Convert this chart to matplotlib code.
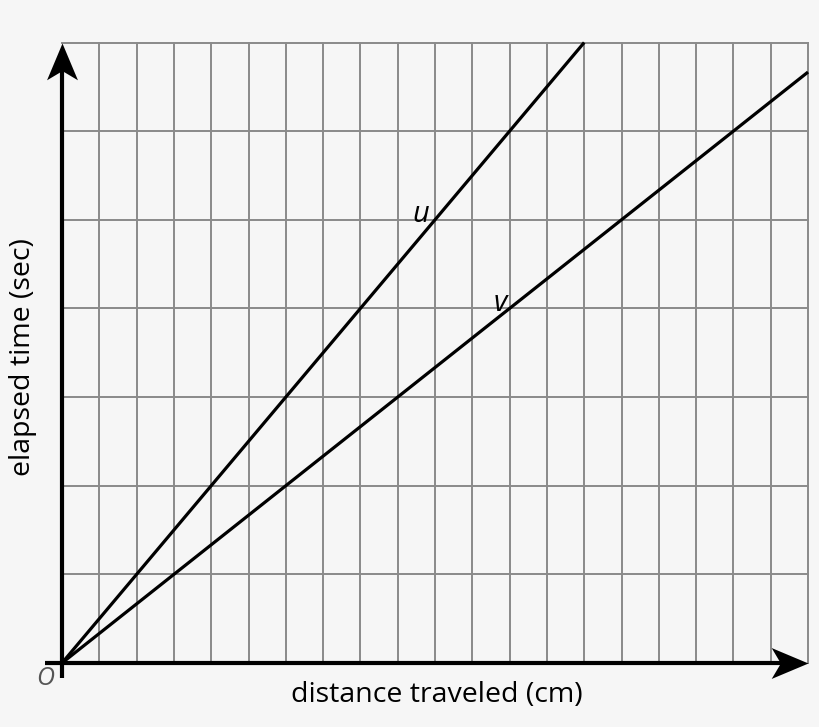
import matplotlib
matplotlib.use("Agg")
import matplotlib.pyplot as plt
from matplotlib.path import Path
import numpy as np

# Data
x_max = 20
y_max = 7
u_x = [0, 14]
u_y = [0, 7]
v_x = [0, 20]
v_y = [0, 20 / 3]
x_label = "distance traveled (cm)"
y_label = "elapsed time (sec)"

bg = "#f6f6f6"
fig = plt.figure(figsize=(8.2, 7.27), dpi=100, facecolor=bg)
ax = fig.add_axes([62 / 820, 1 - 663 / 727, 746 / 820, 620.5 / 727])
ax.set_facecolor(bg)
ax.set_xlim(0, x_max)
ax.set_ylim(0, y_max)
for s in ax.spines.values():
    s.set_visible(False)
ax.set_xticks([])
ax.set_yticks([])

gc = "#8a8a8a"
for xi in range(1, x_max + 1):
    ax.plot([xi, xi], [0, y_max], color=gc, lw=1.4, zorder=1, clip_on=False)
for yi in range(1, y_max + 1):
    ax.plot([0, x_max], [yi, yi], color=gc, lw=1.4, zorder=1, clip_on=False)

ax.plot(u_x, u_y, color="black", lw=2.3, zorder=3, clip_on=False, solid_capstyle="butt")
ax.plot(v_x, v_y, color="black", lw=2.3, zorder=3, clip_on=False, solid_capstyle="butt")

# axis lines
ax.plot([-0.45, x_max - 0.5], [0, 0], color="black", lw=3, zorder=4, clip_on=False,
        solid_capstyle="butt")
ax.plot([0, 0], [-0.17, y_max - 0.2], color="black", lw=3, zorder=4, clip_on=False,
        solid_capstyle="butt")

# notched arrowheads as custom markers (tip at marker origin)
hw, notch = 0.42, 0.75
right_head = Path([(0, 0), (-1, hw), (-notch, 0), (-1, -hw), (0, 0)],
                  [Path.MOVETO, Path.LINETO, Path.LINETO, Path.LINETO, Path.CLOSEPOLY])
up_head = Path([(0, 0), (-hw, -1), (0, -notch), (hw, -1), (0, 0)],
               [Path.MOVETO, Path.LINETO, Path.LINETO, Path.LINETO, Path.CLOSEPOLY])
ax.plot([x_max], [0], marker=right_head, markersize=53, color="black", mew=0,
        zorder=5, clip_on=False, linestyle="none")
ax.plot([0], [y_max], marker=up_head, markersize=53, color="black", mew=0,
        zorder=5, clip_on=False, linestyle="none")

fam = ["Open Sans", "DejaVu Sans"]
ax.text(9.84, 4.97, "u", fontsize=21, style="italic", family=fam, ha="right", va="baseline", zorder=5)
ax.text(11.93, 3.97, "v", fontsize=21, style="italic", family=fam, ha="right", va="baseline", zorder=5)
ax.text(-0.45, -0.17, "O", fontsize=18, style="italic", family=fam, color="#555555",
        ha="center", va="center")

fig.text(437 / 820, 1 - 695 / 727, x_label, fontsize=20.5, family=fam, ha="center", va="center")
fig.text(23 / 820, 1 - 357 / 727, y_label, fontsize=20.5, family=fam, ha="center", va="center",
         rotation=90)

fig.savefig("out.png", dpi=100, facecolor=bg)
